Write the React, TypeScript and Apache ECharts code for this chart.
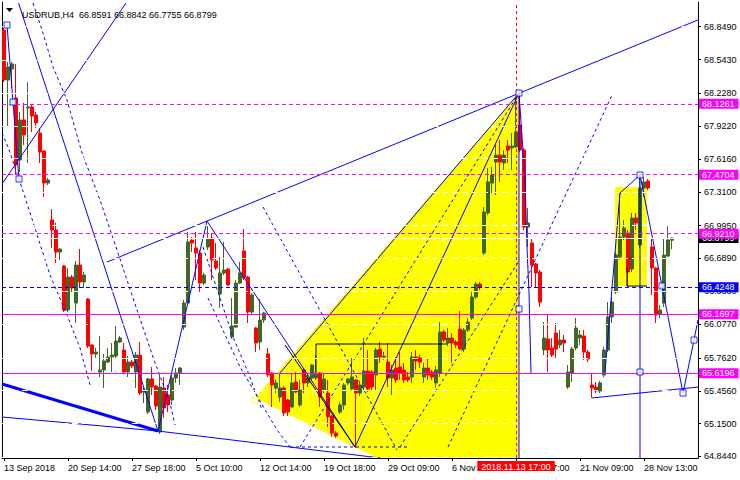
import React, { useEffect, useRef } from "react";
import * as echarts from "echarts";

const titleText = "USDRUB,H4  66.8591 66.8842 66.7755 66.8799";
const timeTickLabels = [
  "13 Sep 2018", "20 Sep 14:00", "27 Sep 18:00", "5 Oct 10:00", "12 Oct 14:00",
  "19 Oct 18:00", "29 Oct 09:00", "6 Nov 13:00", "13 Nov 17:00", "21 Nov 09:00", "28 Nov 13:00",
];
const priceTicks = [68.849, 68.543, 68.228, 67.922, 67.616, 67.31, 66.995, 66.689, 66.383, 66.077, 65.762, 65.456, 65.15, 64.844];
const priceMin = 64.8296;
const priceMax = 69.0794;

// [open, close, low, high]
const ohlc: number[][] = [
  [68.818, 68.352, 68.334, 68.837], [68.352, 68.474, 67.914, 68.52], [68.455, 68.502, 68.278, 68.52], [68.185, 67.56, 67.467, 68.502],
  [67.607, 67.98, 67.495, 68.054], [67.98, 67.84, 67.747, 68.138], [68.091, 68.101, 67.579, 68.334], [68.101, 68.017, 67.868, 68.119],
  [68.026, 67.952, 67.905, 68.054], [67.858, 67.681, 67.579, 67.905], [67.691, 67.392, 67.262, 67.7], [67.392, 67.42, 67.374, 67.439],
  [67.048, 66.954, 66.787, 67.15], [66.954, 66.749, 66.647, 67.02], [66.749, 66.777, 66.675, 66.787], [66.619, 66.209, 66.19, 66.628],
  [66.209, 66.516, 66.19, 66.6], [66.516, 66.414, 66.377, 66.535], [66.274, 66.628, 66.088, 66.666], [66.628, 66.47, 66.423, 66.777],
  [66.47, 66.535, 66.414, 66.563], [66.311, 65.873, 65.855, 66.321], [65.883, 65.799, 65.64, 65.89], [65.799, 65.817, 65.761, 65.855],
  [65.631, 65.65, 65.584, 65.967], [65.65, 65.734, 65.482, 65.799], [65.724, 65.771, 65.715, 65.855], [65.771, 65.789, 65.631, 65.901],
  [65.78, 65.92, 65.761, 66.06], [65.911, 65.948, 65.901, 65.967], [65.836, 65.631, 65.622, 65.901], [65.631, 65.724, 65.584, 65.78],
  [65.724, 65.687, 65.668, 65.743], [65.631, 65.789, 65.482, 65.817], [65.789, 65.435, 65.417, 65.911], [65.445, 65.454, 65.342, 65.482],
  [65.258, 65.566, 65.24, 65.575], [65.566, 65.491, 65.417, 65.678], [65.5, 65.314, 65.277, 65.51], [65.072, 65.491, 65.053, 65.603],
  [65.482, 65.296, 65.202, 65.584], [65.417, 65.324, 65.258, 65.51], [65.37, 65.575, 65.324, 65.603], [65.575, 65.622, 65.529, 65.668],
  [65.622, 65.668, 65.51, 65.678], [66.05, 66.274, 66.022, 66.302], [66.274, 66.843, 66.255, 66.936], [66.861, 66.833, 66.749, 66.889],
  [66.787, 66.74, 66.488, 66.936], [66.74, 66.46, 66.377, 66.768], [66.46, 66.535, 66.442, 66.554], [66.796, 66.871, 66.768, 67.001],
  [66.88, 66.675, 66.488, 66.926], [66.666, 66.6, 66.582, 66.833], [66.358, 66.554, 66.228, 66.703], [66.554, 66.582, 66.535, 66.843],
  [66.591, 66.442, 66.432, 66.6], [65.957, 66.06, 65.939, 66.321], [66.05, 66.46, 66.041, 66.488], [66.46, 66.554, 66.451, 66.656],
  [66.759, 66.507, 66.488, 66.964], [66.516, 66.19, 66.088, 66.525], [66.19, 66.349, 66.172, 66.367], [66.041, 65.901, 65.817, 66.05],
  [65.911, 66.116, 65.836, 66.311], [66.116, 66.181, 66.088, 66.19], [65.799, 65.603, 65.584, 65.855], [65.622, 65.51, 65.305, 65.631],
  [65.482, 65.529, 65.435, 65.557], [65.398, 65.482, 65.351, 65.622], [65.482, 65.249, 65.221, 65.501], [65.37, 65.258, 65.221, 65.38],
  [65.305, 65.529, 65.296, 65.622], [65.538, 65.445, 65.435, 65.631], [65.324, 65.463, 65.305, 65.557], [65.65, 65.529, 65.435, 65.659],
  [65.529, 65.575, 65.491, 65.622], [65.575, 65.696, 65.557, 65.706], [65.575, 65.622, 65.557, 65.789], [65.622, 65.398, 65.305, 65.631],
  [65.463, 65.566, 65.435, 65.622], [65.435, 65.212, 65.118, 65.557], [65.221, 65.062, 65.025, 65.23], [65.062, 65.034, 65.016, 65.081],
  [65.258, 65.324, 65.24, 65.351], [65.324, 65.51, 65.277, 65.529], [65.529, 65.566, 65.51, 65.575], [65.473, 65.585, 65.463, 65.762],
  [65.557, 65.435, 64.923, 65.566], [65.435, 65.51, 65.407, 65.529], [65.491, 65.64, 65.463, 65.948], [65.64, 65.473, 65.445, 65.836],
  [65.631, 65.491, 65.463, 65.65], [65.603, 65.836, 65.463, 65.855], [65.845, 65.771, 65.715, 65.911], [65.771, 65.78, 65.745, 65.818],
  [65.724, 65.575, 65.491, 65.901], [65.575, 65.65, 65.417, 65.696], [65.668, 65.557, 65.529, 65.771], [65.678, 65.622, 65.557, 65.817],
  [65.65, 65.557, 65.529, 65.715], [65.584, 65.557, 65.538, 65.631], [65.584, 65.771, 65.529, 65.817], [65.771, 65.734, 65.65, 65.836],
  [65.762, 65.724, 65.668, 65.789], [65.584, 65.668, 65.529, 65.715], [65.668, 65.603, 65.557, 65.761], [65.631, 65.584, 65.557, 65.65],
  [65.529, 65.65, 65.482, 65.687], [65.622, 66.004, 65.584, 66.097], [66.004, 65.929, 65.911, 66.022], [65.901, 65.948, 65.873, 66.041],
  [65.948, 65.901, 65.715, 65.994], [65.911, 65.883, 65.855, 65.929], [66.032, 65.845, 65.836, 66.2], [65.845, 66.022, 65.817, 66.041],
  [66.022, 66.097, 66.004, 66.134], [66.134, 66.33, 66.116, 66.377], [66.33, 66.451, 66.311, 66.47], [66.451, 66.423, 66.395, 66.47],
  [66.74, 67.122, 66.722, 67.169], [67.113, 67.402, 67.094, 67.532], [67.392, 67.467, 67.299, 67.542], [67.588, 67.653, 67.281, 67.747],
  [67.653, 67.588, 67.402, 67.793], [67.579, 67.653, 67.514, 67.7], [67.737, 67.7, 67.579, 67.793], [67.719, 67.737, 67.514, 67.858],
  [67.728, 67.868, 67.719, 68.194], [67.933, 67.7, 67.681, 68.231], [67.7, 66.982, 66.954, 67.719], [66.982, 67.02, 66.796, 67.16],
  [66.833, 66.628, 66.423, 66.871], [66.638, 66.554, 66.423, 66.647], [66.563, 66.283, 66.237, 66.582], [65.836, 65.948, 65.789, 66.097],
  [65.939, 65.836, 65.631, 66.172], [65.855, 65.789, 65.771, 65.948], [65.994, 65.845, 65.761, 66.088], [65.883, 65.929, 65.855, 66.022],
  [65.929, 65.901, 65.817, 65.976], [65.491, 65.631, 65.473, 65.696], [65.622, 65.845, 65.538, 65.864], [65.855, 66.041, 65.836, 66.134],
  [65.948, 65.976, 65.883, 66.022], [65.967, 65.817, 65.743, 66.022], [65.817, 65.752, 65.724, 65.836], [65.51, 65.482, 65.389, 65.612],
  [65.491, 65.454, 65.435, 65.538], [65.454, 65.529, 65.435, 65.547], [65.603, 65.836, 65.584, 65.864], [65.836, 66.144, 65.817, 66.283],
  [66.144, 66.283, 66.088, 66.33], [66.377, 66.721, 66.358, 66.749], [66.703, 66.889, 66.694, 67.299], [66.889, 66.973, 66.861, 67.048],
  [66.926, 66.563, 66.423, 66.954], [66.591, 67.066, 66.563, 67.113], [67.066, 67.02, 66.954, 67.113], [66.815, 67.346, 66.787, 67.458],
  [67.346, 67.402, 67.262, 67.448], [67.411, 67.346, 67.327, 67.43], [66.796, 66.6, 66.349, 66.88], [66.6, 66.162, 66.088, 66.61],
  [66.172, 66.209, 66.134, 66.255], [66.274, 66.721, 66.237, 66.88], [66.712, 66.861, 66.703, 67.001], [66.8591, 66.8799, 66.7755, 66.8842],
];
const emptySlots = 6;

// horizontal objects
const levelValues = [68.1261, 67.4704, 66.921, 66.4248, 66.1697, 65.6196];
const levelColors = ["#FF00FF", "#FF00FF", "#FF00FF", "#0000FF", "#FF00FF", "#FF00FF"];
const levelDashed = [true, true, true, true, false, false];
const bidPrice = 66.8799;
const crossBar = 128;
const crossLabel = "2018.11.13 17:00";

// drawn objects, as [bar index, price]
const zigLeft = [[0.75, 68.865], [2.25, 68.147], [3.75, 67.43]];
const riseLeft = [[-0.5, 67.383], [30.5, 69.07]];
const descLong = [[3.625, 69.07], [38.5, 65.081]];
const zigMain = [[38.5, 65.081], [50.75, 67.038], [87.75, 64.932], [128.75, 68.231]];
const riseLong = [[25.75, 66.656], [173.5, 68.912]];
const thickLow = [[-0.5, 65.519], [38.5, 65.081]];
const thinLowA = [[38.5, 65.081], [94, 64.83]];
const thinLowB = [[-0.5, 65.212], [38.5, 65.081]];
const vertPeak = [[128.75, 68.231], [128.75, 64.83]];
const steepDown = [[128.75, 68.231], [130.25, 67.42], [130.75, 66.796], [131.25, 66.367], [131.75, 65.622]];
const vertRight = [[159, 67.467], [159, 64.83]];
const zigRight = [[150.25, 65.631], [154, 67.299], [159, 67.467], [164.5, 66.433], [169.75, 65.435], [172.5, 65.929], [173.5, 66.116]];
const lowRight = [[147, 65.389], [173.5, 65.491]];
const fanEdge = [[69, 65.622], [128.75, 68.231]];
const arcA = [[7.25, 69.07], [9.75, 68.79], [12.25, 68.474], [15.75, 68.166], [19.5, 67.672], [24, 67.234], [28.25, 66.768], [33.25, 66.209], [37.25, 65.771], [41.5, 65.342], [42.75, 65.137]];
const arcB = [[-0.5, 67.858], [1, 67.728], [4, 67.402], [7.25, 67.029], [11.5, 66.535], [15.75, 66.162], [19, 65.855], [21.5, 65.51]];
const dashL1 = [[64.75, 67.169], [98.25, 64.904]];
const dashL2a = [[49.75, 66.796], [57.25, 65.957], [61, 65.631], [64.5, 65.277]];
const dashL2b = [[51, 66.321], [59, 65.678], [68.25, 65.091], [71.5, 64.932]];
const dashBottom = [[71.5, 64.932], [100.75, 64.932]];
const dashL3 = [[74, 64.932], [128.75, 68.231]];
const dashL4 = [[111, 64.932], [152.25, 68.231]];
const dashL5 = [[99, 64.932], [128.75, 66.666]];
const blackTop = [[78, 65.892], [110.75, 65.892]];
const blackSide = [[78, 65.892], [78, 65.631]];
const blackDiag = [[70.25, 65.883], [87.75, 64.932]];
const blackRight = [[155.75, 66.6], [155.75, 66.432], [160.75, 66.432]];
const yellowFan = [[62.75, 65.389], [128.75, 68.231], [128.75, 64.83], [93.25, 64.83]];
const yellowBox = [[152.75, 67.355], [160.75, 66.432]];
const anchorsBlue = [[0.75, 68.865], [2.25, 68.147], [3.75, 67.43], [128.75, 68.231], [128.75, 66.218], [159, 67.467], [159, 65.631], [164.5, 66.433], [169.75, 65.435], [172.5, 65.929]];
const anchorsYellow = [[62.75, 65.37]];

const FONT = "Liberation Sans";

export default function App() {
  const ref = useRef<HTMLDivElement>(null);
  useEffect(() => {
    if (!ref.current) return;
    const chart = echarts.init(ref.current, null, { renderer: "svg" });
    const total = ohlc.length + emptySlots;
    const showTick = (i: number) => i % 16 === 0 && i / 16 < timeTickLabels.length;
    const categories = Array.from({ length: total }, (_, i) => (showTick(i) ? timeTickLabels[i / 16] : String(i)));

    const line = (data: number[][], color = "#0000FF", dash: any = "solid", width = 1, z = 3) => ({
      type: "line",
      xAxisIndex: 1,
      yAxisIndex: 0,
      data,
      symbol: "none",
      showSymbol: false,
      silent: true,
      z,
      lineStyle: { color, width, type: dash },
    });
    const D = [3, 3];

    const option: any = {
      animation: false,
      backgroundColor: "#FFFFFF",
      title: {
        text: titleText,
        left: 17,
        top: 5,
        textStyle: { fontFamily: FONT, fontSize: 9, fontWeight: "normal", color: "#000000" },
      },
      graphic: [
        { type: "polygon", shape: { points: [[6, 8], [13, 8], [9.5, 12]] }, style: { fill: "#000000" }, z: 10 },
      ],
      grid: { left: 2, right: 42, top: 2, bottom: 22, containLabel: false },
      xAxis: [
        {
          type: "category",
          data: categories,
          boundaryGap: true,
          axisLine: { show: true, onZero: false, lineStyle: { color: "#000000", width: 1 } },
          axisTick: { show: true, interval: (i: number) => showTick(i), alignWithLabel: true, length: 3, lineStyle: { color: "#000000" } },
          axisLabel: {
            interval: (i: number) => showTick(i),
            align: "left",
            margin: 5,
            fontFamily: FONT,
            fontSize: 9,
            color: "#000000",
          },
          splitLine: { show: false },
        },
        { type: "value", min: -0.5, max: total - 0.5, show: false },
      ],
      yAxis: [
        {
          type: "value",
          position: "right",
          min: priceMin,
          max: priceMax,
          axisLine: { show: true, onZero: false, lineStyle: { color: "#000000", width: 1 } },
          axisTick: { show: true, customValues: priceTicks, length: 3, lineStyle: { color: "#000000" } },
          axisLabel: {
            customValues: priceTicks,
            formatter: (v: number) => v.toFixed(4),
            margin: 6,
            fontFamily: FONT,
            fontSize: 9,
            color: "#000000",
          },
          splitLine: { show: false },
        },
        {
          type: "value",
          position: "left",
          min: priceMin,
          max: priceMax,
          axisLine: { show: true, onZero: false, lineStyle: { color: "#000000", width: 1 } },
          axisTick: { show: false },
          axisLabel: { show: false },
          splitLine: { show: false },
        },
      ],
      series: [
        {
          type: "custom",
          xAxisIndex: 1,
          yAxisIndex: 0,
          z: 0,
          silent: true,
          data: [[0, 66], [1, 66]],
          renderItem: (params: any, api: any) => {
            if (params.dataIndex === 0) {
              return {
                type: "polygon",
                shape: { points: yellowFan.map((p) => api.coord(p)) },
                style: { fill: "#FFFF00" },
              };
            }
            const a = api.coord(yellowBox[0]);
            const b = api.coord(yellowBox[1]);
            return {
              type: "rect",
              shape: { x: a[0], y: a[1], width: b[0] - a[0], height: b[1] - a[1] },
              style: { fill: "#FFFF00" },
            };
          },
        },
        {
          type: "line",
          xAxisIndex: 1,
          yAxisIndex: 0,
          data: [[-5, 66]],
          symbol: "none",
          silent: true,
          z: 1,
          markLine: {
            silent: true,
            symbol: ["none", "none"],
            data: [
              ...priceTicks.map((v) => ({
                yAxis: v,
                lineStyle: { color: "#FFFFFF", type: [6, 4], width: 1 },
                label: { show: false },
              })),
              {
                yAxis: bidPrice,
                lineStyle: { color: "#FFFFFF", type: "solid", width: 1 },
                label: {
                  show: true,
                  position: "end",
                  distance: 1,
                  formatter: bidPrice.toFixed(4),
                  backgroundColor: "#000000",
                  color: "#FFFFFF",
                  fontFamily: FONT,
                  fontSize: 9,
                  padding: [1, 4, 0, 3],
                },
              },
            ],
          },
        },
        {
          type: "candlestick",
          xAxisIndex: 0,
          yAxisIndex: 0,
          data: ohlc,
          barWidth: 3,
          z: 2,
          silent: true,
          itemStyle: {
            color: "#3A6B22",
            color0: "#FF0000",
            borderColor: "#46632A",
            borderColor0: "#FF0000",
            borderWidth: 1,
          },
        },
        line(riseLeft),
        line(descLong),
        line(zigLeft),
        line(zigMain),
        line(riseLong),
        line(thickLow, "#0000FF", "solid", 3),
        line(thinLowA),
        line(thinLowB),
        line(vertPeak),
        line(steepDown),
        line(vertRight),
        line(zigRight),
        line(lowRight),
        line(fanEdge),
        line(arcA, "#0000FF", D),
        line(arcB, "#0000FF", D),
        line(dashL1, "#0000FF", D),
        line(dashL2a, "#0000FF", D),
        line(dashL2b, "#0000FF", D),
        line(dashBottom, "#0000FF", D),
        line(dashL3, "#0000FF", D),
        line(dashL4, "#0000FF", D),
        line(dashL5, "#0000FF", D),
        line(blackTop, "#000000"),
        line(blackSide, "#000000"),
        line(blackDiag, "#000000"),
        line(blackRight, "#000000"),
        {
          type: "line",
          xAxisIndex: 1,
          yAxisIndex: 0,
          data: [[-5, 66]],
          symbol: "none",
          silent: true,
          z: 4,
          markLine: {
            silent: true,
            symbol: ["none", "none"],
            data: [
              ...levelValues.map((v, i) => ({
                yAxis: v,
                lineStyle: { color: levelColors[i], type: levelDashed[i] ? [4, 3] : "solid", width: 1 },
                label: {
                  show: true,
                  position: "end",
                  distance: 1,
                  formatter: v.toFixed(4),
                  backgroundColor: levelColors[i],
                  color: "#FFFFFF",
                  fontFamily: FONT,
                  fontSize: 9,
                  padding: [1, 4, 0, 3],
                },
              })),
              {
                xAxis: crossBar,
                lineStyle: { color: "#FF0000", type: [3, 3], width: 1 },
                label: {
                  show: true,
                  position: "start",
                  distance: 3,
                  formatter: crossLabel,
                  backgroundColor: "#FF0000",
                  color: "#FFFFFF",
                  fontFamily: FONT,
                  fontSize: 9,
                  padding: [1, 4, 0, 4],
                },
              },
            ],
          },
        },
        {
          type: "scatter",
          xAxisIndex: 1,
          yAxisIndex: 0,
          data: anchorsBlue,
          symbol: "rect",
          symbolSize: 6,
          silent: true,
          z: 5,
          itemStyle: { color: "#FFFFFF", borderColor: "#0000FF", borderWidth: 1 },
        },
        {
          type: "scatter",
          xAxisIndex: 1,
          yAxisIndex: 0,
          data: anchorsYellow,
          symbol: "rect",
          symbolSize: 6,
          silent: true,
          z: 5,
          itemStyle: { color: "#FFFFFF", borderColor: "#FFFF00", borderWidth: 1 },
        },
      ],
    };
    chart.setOption(option);
    return () => chart.dispose();
  }, []);
  return (
    <div
      ref={ref}
      style={{ position: "fixed", left: 0, top: 0, width: 740, height: 480, background: "#FFFFFF" }}
    />
  );
}
